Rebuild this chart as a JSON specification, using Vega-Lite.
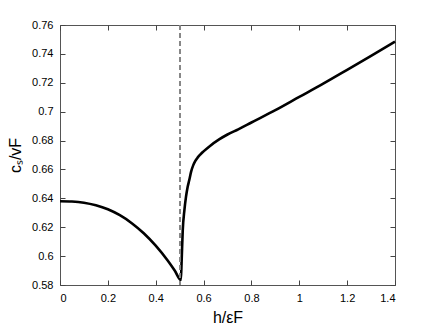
{
  "$schema": "https://vega.github.io/schema/vega-lite/v6.json",
  "autosize": "none",
  "width": 335,
  "height": 260,
  "padding": {"left": 60, "top": 25, "right": 41, "bottom": 48},
  "background": "white",
  "config": {
    "view": {"stroke": "#555", "strokeWidth": 1},
    "font": "Liberation Sans",
    "axis": {
      "grid": false,
      "domain": false,
      "ticks": true,
      "tickColor": "#444",
      "tickWidth": 1,
      "tickSize": 5,
      "offset": -5,
      "labelPadding": 8,
      "labelFont": "Liberation Sans",
      "labelFontSize": 11,
      "labelColor": "#000",
      "titleFont": "Liberation Sans",
      "titleFontSize": 16,
      "titleFontWeight": "normal",
      "titleColor": "#000"
    }
  },
  "data": {
    "values": [
      {"x": 0.0, "y": 0.638},
      {"x": 0.05, "y": 0.6378},
      {"x": 0.1, "y": 0.637},
      {"x": 0.15, "y": 0.6352},
      {"x": 0.2, "y": 0.6324},
      {"x": 0.25, "y": 0.6283},
      {"x": 0.3, "y": 0.6228},
      {"x": 0.35, "y": 0.6158},
      {"x": 0.4, "y": 0.6072},
      {"x": 0.45, "y": 0.5969},
      {"x": 0.48, "y": 0.5898},
      {"x": 0.505, "y": 0.5835},
      {"x": 0.508, "y": 0.595},
      {"x": 0.513, "y": 0.618},
      {"x": 0.52, "y": 0.632},
      {"x": 0.5265, "y": 0.641},
      {"x": 0.533, "y": 0.6475},
      {"x": 0.54, "y": 0.6525},
      {"x": 0.548, "y": 0.6585},
      {"x": 0.557, "y": 0.663},
      {"x": 0.565, "y": 0.6658},
      {"x": 0.575, "y": 0.6682},
      {"x": 0.585, "y": 0.6701},
      {"x": 0.6, "y": 0.6725},
      {"x": 0.627, "y": 0.6763},
      {"x": 0.665, "y": 0.6808},
      {"x": 0.7, "y": 0.6842},
      {"x": 0.745, "y": 0.6878},
      {"x": 0.8, "y": 0.6925},
      {"x": 0.9, "y": 0.701},
      {"x": 1.0, "y": 0.7102},
      {"x": 1.1, "y": 0.7194},
      {"x": 1.2, "y": 0.729},
      {"x": 1.3, "y": 0.7387},
      {"x": 1.4, "y": 0.7485}
    ]
  },
  "layer": [
    {
      "mark": {"type": "line", "color": "#000", "strokeWidth": 2.6, "interpolate": "monotone"},
      "encoding": {
        "x": {
          "field": "x", "type": "quantitative",
          "scale": {"domain": [0, 1.4], "nice": false},
          "axis": {"orient": "bottom", "title": "h/εF", "values": [0, 0.2, 0.4, 0.6, 0.8, 1, 1.2, 1.4], "format": "~g", "labelPadding": 7, "titlePadding": 6}
        },
        "y": {
          "field": "y", "type": "quantitative",
          "scale": {"domain": [0.58, 0.76], "nice": false, "zero": false},
          "axis": {"orient": "left", "title": "cₛ/vF", "values": [0.58, 0.6, 0.62, 0.64, 0.66, 0.68, 0.7, 0.72, 0.74, 0.76], "format": "~g", "labelPadding": 7, "titlePadding": 8}
        }
      }
    },
    {
      "mark": {"type": "point", "opacity": 0},
      "encoding": {
        "x": {
          "field": "x", "type": "quantitative",
          "axis": {"orient": "top", "title": null, "labels": false, "values": [0, 0.2, 0.4, 0.6, 0.8, 1, 1.2, 1.4]}
        },
        "y": {
          "field": "y", "type": "quantitative",
          "axis": {"orient": "right", "title": null, "labels": false, "values": [0.58, 0.6, 0.62, 0.64, 0.66, 0.68, 0.7, 0.72, 0.74, 0.76]}
        }
      }
    },
    {
      "mark": {"type": "rule", "color": "#888", "strokeWidth": 1, "strokeDash": [5, 3]},
      "encoding": {
        "x": {"datum": 0.5, "type": "quantitative", "axis": null}
      }
    }
  ],
  "resolve": {"axis": {"x": "independent", "y": "independent"}}
}
